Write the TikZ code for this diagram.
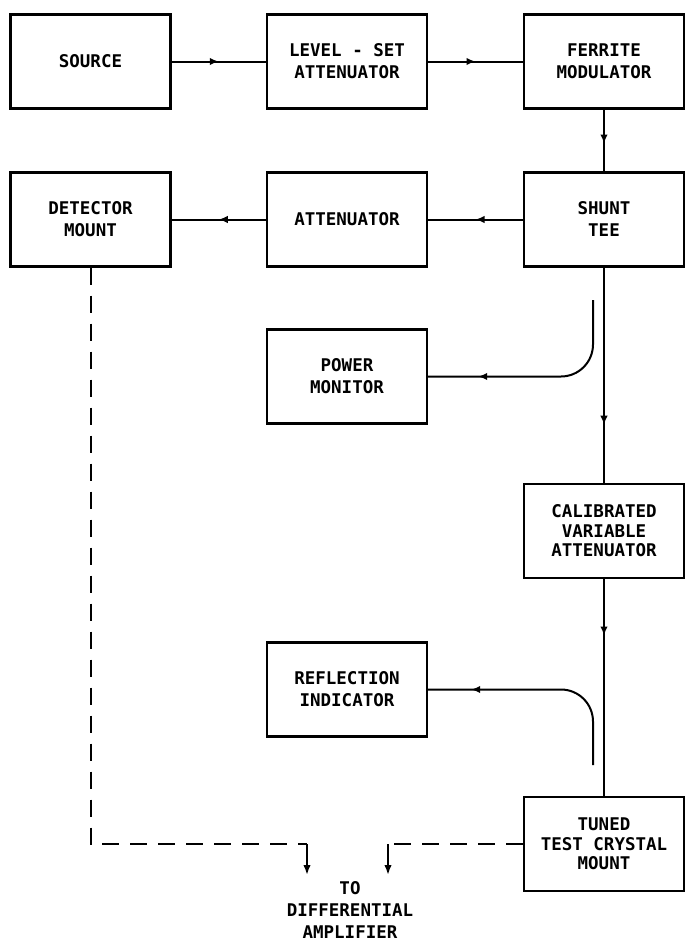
\documentclass[tikz,border=0pt]{standalone}
\usepackage{fontspec}
\newfontfamily\lblfont{DejaVu Sans Mono}
\usetikzlibrary{arrows.meta,decorations.markings}
\newcommand\lbltwo{\lblfont\bfseries\fontsize{17.5}{22}\selectfont}
\newcommand\lblthree{\lblfont\bfseries\fontsize{17.5}{19.5}\selectfont}
\begin{document}
\begin{tikzpicture}[x=1pt,y=-1pt,
  box/.style={draw,line width=2.4pt,minimum width=160pt,minimum height=94pt,inner sep=0pt,align=center,font=\lbltwo},
  box3/.style={box,font=\lblthree},
  conn/.style={line width=2pt},
  midarrow/.style={postaction={decorate},decoration={markings,mark=at position #1 with {\arrow{Latex[length=9pt,width=7.5pt]}}}},
  dashline/.style={line width=2pt,dash pattern=on 17pt off 11pt},
  endarrow/.style={line width=2pt,-{Latex[length=10pt,width=7.5pt]}}
  ]
\useasboundingbox (0,0) rectangle (685,943);
\node[box] (source) at (90.5,61.5) {SOURCE};
\node[box] (level) at (347,61.5) {LEVEL - SET\\ATTENUATOR};
\node[box] (ferrite) at (604,61.5) {FERRITE\\MODULATOR};
\node[box] (detector) at (90.5,219.5) {DETECTOR\\MOUNT};
\node[box] (atten) at (347,219.5) {ATTENUATOR};
\node[box] (shunt) at (604,219.5) {SHUNT\\TEE};
\node[box] (power) at (347,376.5) {POWER\\MONITOR};
\node[box3] (calib) at (604,531) {CALIBRATED\\VARIABLE\\ATTENUATOR};
\node[box] (reflect) at (347,689.5) {REFLECTION\\INDICATOR};
\node[box3] (tuned) at (604,844) {TUNED\\TEST CRYSTAL\\MOUNT};
\node[align=center,inner sep=0pt,font=\lblfont\bfseries\fontsize{17.5}{22}\selectfont] (diff) at (350,910) {TO\\DIFFERENTIAL\\AMPLIFIER};

\draw[conn,midarrow=0.5] (source) -- (level);
\draw[conn,midarrow=0.5] (level) -- (ferrite);
\draw[conn,midarrow=0.55] (ferrite) -- (shunt);
\draw[conn,midarrow=0.5] (shunt) -- (atten);
\draw[conn,midarrow=0.5] (atten) -- (detector);
\draw[conn,midarrow=0.73] (shunt) -- (calib);
\draw[conn,midarrow=0.26] (calib) -- (tuned);

\coordinate (ptop) at (593,300);
\draw[conn,rounded corners=32pt,midarrow=-50pt] (ptop) |- (power.east);
\coordinate (rbot) at (593,765);
\draw[conn,rounded corners=32pt,midarrow=-43pt] (rbot) |- (reflect.east);

\coordinate (dA) at (307,844);
\coordinate (dAend) at (307,875);
\coordinate (dB) at (388,844);
\coordinate (dBend) at (388,875);
\draw[dashline] (detector.south) |- (dA);
\draw[endarrow] (dA) -- (dAend);
\draw[dashline] (tuned.west) -- (dB);
\draw[endarrow] (dB) -- (dBend);
\end{tikzpicture}
\end{document}
